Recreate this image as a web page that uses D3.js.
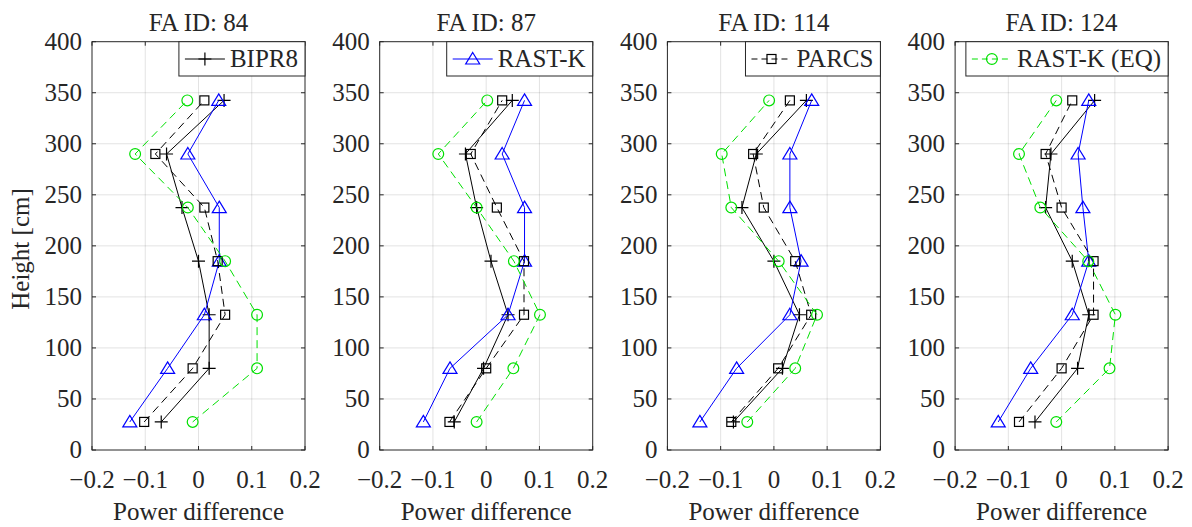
<!DOCTYPE html>
<html lang="en">
<head>
    <meta charset="UTF-8">
    <title>power difference</title>
    <script src="https://cdn.jsdelivr.net/npm/d3@7/dist/d3.min.js"></script>
    <style>
        body { margin: 0; background: #fff; }
        svg text { font-family: 'Liberation Serif', 'Times New Roman', 'DejaVu Serif', serif; fill: #262626; }
        .grid line { stroke: #262626; stroke-opacity: 0.13; }
        .frame { fill: none; stroke: #262626; stroke-width: 1; }
    </style>
</head>
<body>
<svg width="1192" height="527" font-family="Liberation Serif, Times New Roman, DejaVu Serif, serif"></svg>
<script>
    // ---- data (each array is bottom -> top, matching heights) ----
    var titles = ['FA ID: 84', 'FA ID: 87', 'FA ID: 114', 'FA ID: 124'];
    var heights = [27.5, 80, 132.5, 185, 237.5, 290, 342.5];
    var xTicks = [-0.2, -0.1, 0, 0.1, 0.2];
    var yTicks = [0, 50, 100, 150, 200, 250, 300, 350, 400];

    var bipr8 = [
        [-0.070, 0.020, 0.020, 0.000, -0.031, -0.060, 0.048],
        [-0.060, -0.005, 0.041, 0.009, -0.018, -0.039, 0.049],
        [-0.076, 0.016, 0.048, 0.000, -0.060, -0.033, 0.061],
        [-0.050, 0.030, 0.051, 0.020, -0.030, -0.020, 0.062]
    ];
    var rastk = [
        [-0.129, -0.058, 0.011, 0.039, 0.039, -0.020, 0.038],
        [-0.118, -0.068, 0.041, 0.072, 0.072, 0.030, 0.072],
        [-0.139, -0.070, 0.030, 0.051, 0.030, 0.030, 0.071],
        [-0.119, -0.058, 0.020, 0.051, 0.040, 0.031, 0.051]
    ];
    var parcs = [
        [-0.102, -0.011, 0.050, 0.036, 0.011, -0.081, 0.011],
        [-0.069, 0.000, 0.071, 0.071, 0.020, -0.029, 0.030],
        [-0.080, 0.008, 0.070, 0.040, -0.019, -0.039, 0.030],
        [-0.080, 0.000, 0.060, 0.060, 0.000, -0.030, 0.020]
    ];
    var rastkEq = [
        [-0.011, 0.110, 0.110, 0.050, -0.020, -0.119, -0.021],
        [-0.018, 0.051, 0.101, 0.052, -0.018, -0.090, 0.002],
        [-0.050, 0.040, 0.081, 0.009, -0.080, -0.098, -0.009],
        [-0.010, 0.090, 0.101, 0.050, -0.040, -0.080, -0.010]
    ];

    var series = [
        { name: 'BIPR8', values: bipr8, color: '#000000', dash: null, marker: 'plus' },
        { name: 'RAST-K', values: rastk, color: '#0000ff', dash: null, marker: 'triangle' },
        { name: 'PARCS', values: parcs, color: '#000000', dash: '8,5', marker: 'square' },
        { name: 'RAST-K (EQ)', values: rastkEq, color: '#00e000', dash: '8,5', marker: 'circle' }
    ];

    (function() {
        var svg = d3.select('svg'),
            plotTop = 41.7,
            plotBottom = 450,
            plotW = 213,
            step = 287.7,
            left0 = 92,
            fs = 25;

        var y = d3.scaleLinear().domain([0, 400]).range([plotBottom, plotTop]);

        function drawMarker(g, type, cx, cy, color) {
            if (type === 'plus') {
                g.append('path')
                    .attr('d', 'M' + (cx - 6.5) + ',' + cy + 'H' + (cx + 6.5) + 'M' + cx + ',' + (cy - 6.5) + 'V' + (cy + 6.5))
                    .attr('stroke', color).attr('stroke-width', 1.2).attr('fill', 'none');
            } else if (type === 'triangle') {
                g.append('path')
                    .attr('d', 'M' + cx + ',' + (cy - 6.5) + 'L' + (cx + 7) + ',' + (cy + 5) + 'L' + (cx - 7) + ',' + (cy + 5) + 'Z')
                    .attr('stroke', color).attr('stroke-width', 1.2).attr('fill', 'none');
            } else if (type === 'square') {
                g.append('rect')
                    .attr('x', cx - 4.5).attr('y', cy - 4.5).attr('width', 9).attr('height', 9)
                    .attr('stroke', color).attr('stroke-width', 1.2).attr('fill', 'none');
            } else {
                g.append('circle')
                    .attr('cx', cx).attr('cy', cy).attr('r', 5.4)
                    .attr('stroke', color).attr('stroke-width', 1.2).attr('fill', 'none');
            }
        }

        titles.forEach(function(title, p) {
            var left = left0 + p * step,
                x = d3.scaleLinear().domain([-0.2, 0.2]).range([left, left + plotW]),
                g = svg.append('g');

            // grid
            var grid = g.append('g').classed('grid', true);
            grid.selectAll('.gx').data(xTicks.slice(1, -1)).enter().append('line')
                .attr('x1', function(d) { return x(d); }).attr('x2', function(d) { return x(d); })
                .attr('y1', plotTop).attr('y2', plotBottom);
            grid.selectAll('.gy').data(yTicks.slice(1, -1)).enter().append('line')
                .attr('x1', left).attr('x2', left + plotW)
                .attr('y1', function(d) { return y(d); }).attr('y2', function(d) { return y(d); });

            // series
            series.forEach(function(s) {
                var vals = s.values[p];
                var line = d3.line()
                    .x(function(d) { return x(d); })
                    .y(function(d, i) { return y(heights[i]); });
                g.append('path')
                    .datum(vals)
                    .attr('d', line)
                    .attr('fill', 'none')
                    .attr('stroke', s.color)
                    .attr('stroke-width', 1)
                    .attr('stroke-dasharray', s.dash);
                vals.forEach(function(v, i) {
                    drawMarker(g, s.marker, x(v), y(heights[i]), s.color);
                });
            });

            // frame and inward ticks on all sides
            g.append('rect').classed('frame', true)
                .attr('x', left).attr('y', plotTop).attr('width', plotW).attr('height', plotBottom - plotTop);
            var tk = g.append('g').attr('stroke', '#262626').attr('stroke-width', 1);
            xTicks.forEach(function(t) {
                tk.append('line').attr('x1', x(t)).attr('x2', x(t)).attr('y1', plotBottom).attr('y2', plotBottom - 4);
                tk.append('line').attr('x1', x(t)).attr('x2', x(t)).attr('y1', plotTop).attr('y2', plotTop + 4);
            });
            yTicks.forEach(function(t) {
                tk.append('line').attr('x1', left).attr('x2', left + 4).attr('y1', y(t)).attr('y2', y(t));
                tk.append('line').attr('x1', left + plotW).attr('x2', left + plotW - 4).attr('y1', y(t)).attr('y2', y(t));
            });

            // tick labels
            g.selectAll('.xl').data(xTicks).enter().append('text')
                .attr('x', function(d) { return x(d); })
                .attr('y', plotBottom + 38)
                .attr('text-anchor', 'middle')
                .attr('font-size', fs)
                .text(function(d) { return d3.format('.1f')(d).replace('-', '\u2212').replace(/^0\.0$/, '0'); });
            g.selectAll('.yl').data(yTicks).enter().append('text')
                .attr('x', left - 10)
                .attr('y', function(d) { return y(d) + 8; })
                .attr('text-anchor', 'end')
                .attr('font-size', fs)
                .text(function(d) { return d; });

            // title and x label
            g.append('text')
                .attr('x', left + plotW / 2).attr('y', 31)
                .attr('text-anchor', 'middle').attr('font-size', fs)
                .text(title);
            g.append('text')
                .attr('x', left + plotW / 2).attr('y', 520)
                .attr('text-anchor', 'middle').attr('font-size', fs)
                .text('Power difference');

            // legend: one entry per panel
            var s = series[p],
                lg = g.append('g'),
                txt = lg.append('text')
                    .attr('y', 67).attr('font-size', fs).text(s.name),
                tw = txt.node().getComputedTextLength(),
                boxR = left + plotW,
                boxL = boxR - (6 + 40 + 5 + tw + 7);
            txt.attr('x', boxL + 51);
            lg.insert('rect', 'text')
                .attr('x', boxL).attr('y', plotTop).attr('width', boxR - boxL).attr('height', 76 - plotTop)
                .attr('fill', '#fff').attr('stroke', '#262626').attr('stroke-width', 1);
            lg.append('line')
                .attr('x1', boxL + 6).attr('x2', boxL + 46).attr('y1', 59).attr('y2', 59)
                .attr('stroke', s.color).attr('stroke-width', 1).attr('stroke-dasharray', s.dash ? '6,4' : null);
            drawMarker(lg, s.marker, boxL + 26, 59, s.color);
        });

        // y label
        svg.append('text')
            .attr('transform', 'translate(29,249) rotate(-90)')
            .attr('text-anchor', 'middle')
            .attr('font-size', fs)
            .text('Height [cm]');
    })();
</script>
</body>
</html>
